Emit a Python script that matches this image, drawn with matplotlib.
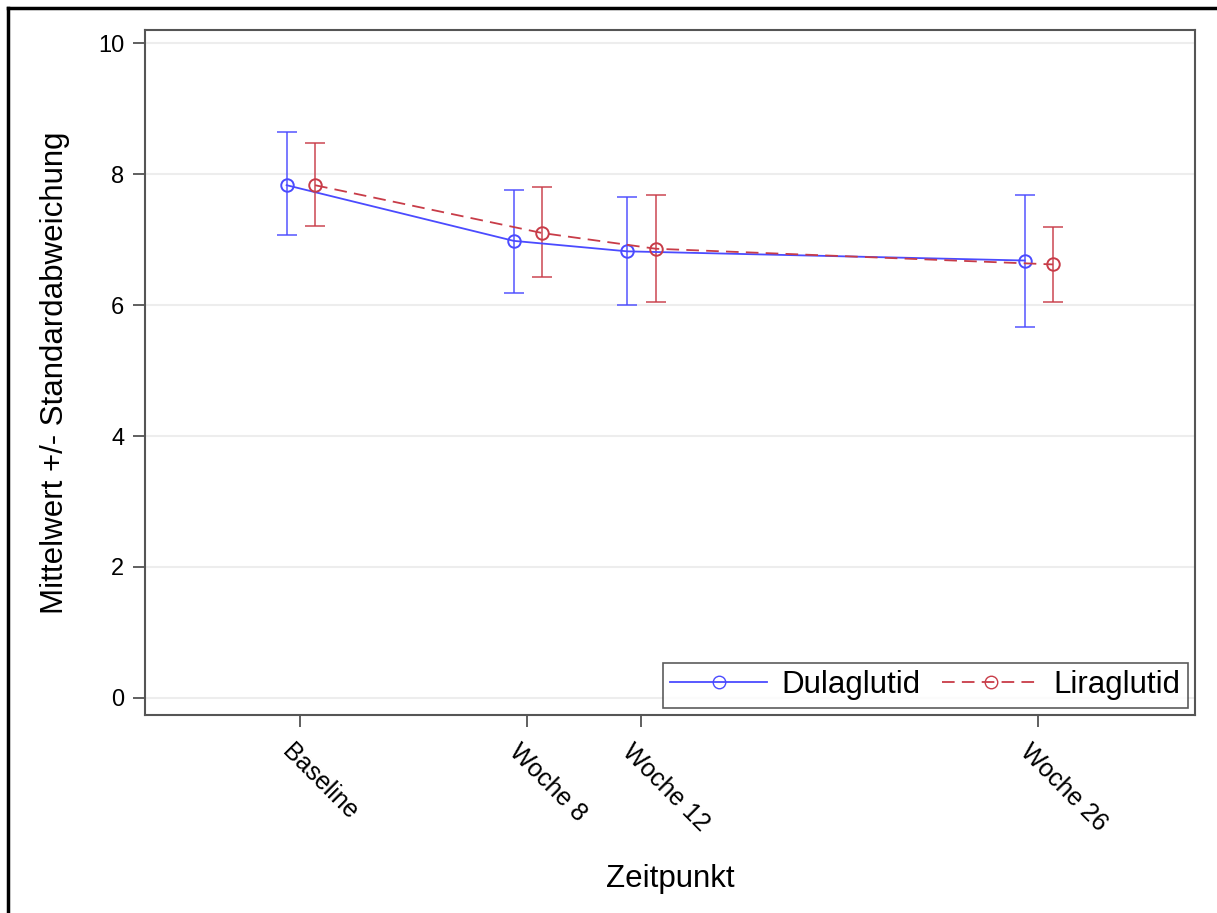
import matplotlib
matplotlib.use("Agg")
import matplotlib.pyplot as plt
from matplotlib.lines import Line2D
from matplotlib.transforms import ScaledTranslation
import numpy as np

plt.rcParams['font.family'] = ['Liberation Sans', 'DejaVu Sans']

# data
weeks = [0, 8, 12, 26]
tick_labels = ['Baseline', 'Woche 8', 'Woche 12', 'Woche 26']

dula_mean = [7.83, 6.98, 6.82, 6.68]
dula_lower = [7.07, 6.19, 6.00, 5.67]
dula_upper = [8.64, 7.75, 7.65, 7.68]

lira_mean = [7.83, 7.10, 6.86, 6.62]
lira_lower = [7.20, 6.43, 6.04, 6.04]
lira_upper = [8.48, 7.81, 7.68, 7.19]

blue = '#4b4bff'
red = '#c83c48'

fig = plt.figure(figsize=(12.17, 9.13), dpi=100)
ax = fig.add_axes([145 / 1217, 1 - 715 / 913, 1050 / 1217, 685 / 913])

x = np.array(weeks, dtype=float)


def draw(xs, mean, lower, upper, color, ls):
    mean = np.array(mean)
    yerr = [mean - np.array(lower), np.array(upper) - mean]
    ax.errorbar(xs, mean, yerr=yerr, fmt='none', ecolor=color, elinewidth=1.3,
                capsize=7, capthick=1.3, alpha=0.8, zorder=3)
    ax.plot(xs, mean, color=color, ls=ls, lw=1.3, marker='o', ms=9,
            mfc='none', mec=color, mew=1.4, zorder=4,
            dashes=(7, 4) if ls == '--' else (None, None))


draw(x - 0.47, dula_mean, dula_lower, dula_upper, blue, '-')
draw(x + 0.53, lira_mean, lira_lower, lira_upper, red, '--')

ax.set_xlim(-5.46, 31.53)
ax.set_ylim(-0.26, 10.2)
ax.set_yticks([0, 2, 4, 6, 8, 10])
ax.set_xticks(weeks)
ax.set_xticklabels([])

# rotated tick labels placed as texts just below each tick
offset = ScaledTranslation(-0.06, -0.25, fig.dpi_scale_trans)
for wk, lab in zip(weeks, tick_labels):
    ax.text(wk, 0, lab, rotation=-45, ha='left', va='top', rotation_mode='anchor',
            fontsize=18, transform=ax.get_xaxis_transform() + offset, clip_on=False)

ax.grid(axis='y', color='#ededed', lw=1.5)
ax.set_axisbelow(True)
ax.tick_params(axis='both', direction='out', length=8.5, width=1.2,
               color='#444444', labelsize=17)
ax.tick_params(axis='y', pad=6.5)
for sp in ax.spines.values():
    sp.set_color('#555555')
    sp.set_linewidth(1.5)

ax.set_xlabel('Zeitpunkt', fontsize=22.5)
ax.xaxis.set_label_coords(0.5, -0.217)
ax.set_ylabel('Mittelwert +/- Standardabweichung', fontsize=22.5, labelpad=20)

handles = [
    Line2D([], [], color=blue, ls='-', lw=1.3, marker='o', ms=9, mfc='none', mec=blue),
    Line2D([], [], color=red, ls='--', lw=1.3, marker='o', ms=9, mfc='none', mec=red,
           dashes=(7, 4)),
]
leg = ax.legend(handles, ['Dulaglutid', 'Liraglutid'], loc='lower right', ncol=2,
                fontsize=22.5, frameon=True, fancybox=False, edgecolor='#333333',
                handlelength=3.1, handletextpad=0.45, columnspacing=0.7,
                borderaxespad=0.22, borderpad=0.25, numpoints=1)
leg.get_frame().set_linewidth(1.2)

# outer frame of the figure (top and left edges visible)
fig.add_artist(Line2D([8 / 1217, 8 / 1217], [1 - 8 / 913, 0], transform=fig.transFigure,
                      color='black', lw=2.5))
fig.add_artist(Line2D([8 / 1217, 1], [1 - 8 / 913, 1 - 8 / 913], transform=fig.transFigure,
                      color='black', lw=2.5))

fig.savefig('out.png', dpi=100)
